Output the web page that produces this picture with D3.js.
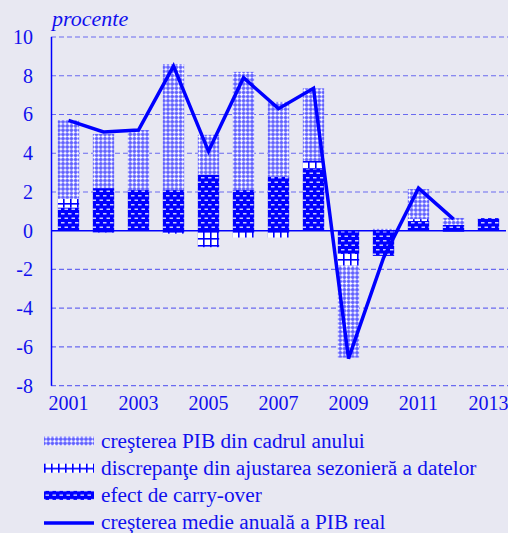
<!DOCTYPE html>
<html>
<head>
<meta charset="utf-8">
<script src="https://cdn.jsdelivr.net/npm/d3@7"></script>
<style>
  body { margin: 0; background: #e8e8f2; }
  svg { display: block; font-family: "Liberation Serif", "Times New Roman", serif; }
  text { fill: #1010ee; }
</style>
</head>
<body>
<svg id="chart" width="508" height="533"></svg>
<script>
// values (percent)
var years = [2001, 2002, 2003, 2004, 2005, 2006, 2007, 2008, 2009, 2010, 2011, 2012, 2013];
var carryOver = [1.2, 2.2, 2.1, 2.1, 2.9, 2.1, 2.8, 3.2, -1.2, -1.3, 0.5, 0.3, 0.65];
var discrepancy = [0.45, -0.1, 0, -0.15, -0.85, -0.35, -0.35, 0.4, -0.6, 0, 0.1, -0.05, 0];
var inYear = [4.05, 2.8, 3.1, 6.5, 2.05, 6.1, 3.85, 3.75, -4.75, 0.1, 1.55, 0.36, 0];
var annualAvg = [5.7, 5.1, 5.2, 8.5, 4.1, 7.9, 6.3, 7.35, -6.6, -1.4, 2.2, 0.6, null];
var yTicks = [-8, -6, -4, -2, 0, 2, 4, 6, 8, 10];
var xLabels = [2001, 2003, 2005, 2007, 2009, 2011, 2013];

var legendItems = [
    { key: "inYear", label: "creşterea PIB din cadrul anului" },
    { key: "discrepancy", label: "discrepanţe din ajustarea sezonieră a datelor" },
    { key: "carryOver", label: "efect de carry-over" },
    { key: "line", label: "creşterea medie anuală a PIB real" }
];

var blue = "#0000ff";
var svg = d3.select("#chart");

// patterns for the three bar series
var defs = svg.append("defs");

var pIn = defs.append("pattern").attr("id", "pat-inYear")
    .attr("patternUnits", "userSpaceOnUse").attr("width", 4.2).attr("height", 4.2);
pIn.append("rect").attr("width", 4.2).attr("height", 4.2).attr("fill", "#6060ff");
pIn.append("path")
    .attr("d", "M0,2.1L2.1,0L4.2,2.1L2.1,4.2Z")
    .attr("fill", "#a4a4ff");
pIn.append("rect").attr("x", 1.6).attr("y", 0.6).attr("width", 1).attr("height", 3).attr("fill", "#ffffff");
pIn.append("rect").attr("x", 0.6).attr("y", 1.6).attr("width", 3).attr("height", 1).attr("fill", "#ffffff");

var pDisc = defs.append("pattern").attr("id", "pat-discrepancy")
    .attr("patternUnits", "userSpaceOnUse").attr("width", 7).attr("height", 7);
pDisc.append("rect").attr("width", 7).attr("height", 7).attr("fill", "#ffffff");
pDisc.append("rect").attr("x", 0).attr("y", 0).attr("width", 1.6).attr("height", 7).attr("fill", blue);
pDisc.append("rect").attr("x", 0).attr("y", 0).attr("width", 7).attr("height", 1.6).attr("fill", blue);

var pCarry = defs.append("pattern").attr("id", "pat-carryOver")
    .attr("patternUnits", "userSpaceOnUse").attr("width", 7).attr("height", 9);
pCarry.append("rect").attr("width", 7).attr("height", 9).attr("fill", blue);
[[1.5, 1.5], [5, 6], [-2, 6]].forEach(function(d) {
    pCarry.append("rect").attr("x", d[0]).attr("y", d[1])
        .attr("width", 3.5).attr("height", 1.5).attr("fill", "#c8c8ff");
});

// scales
var x = d3.scaleBand()
    .domain(years)
    .range([51, 506])
    .paddingInner(0.39)
    .paddingOuter(0.195);

var y = d3.scaleLinear()
    .domain([-8, 10])
    .range([385.7, 37]);

// grid lines
svg.append("g")
    .selectAll("line")
    .data(yTicks.filter(function(t) { return t !== 0; }))
    .enter()
    .append("line")
    .attr("x1", 51).attr("x2", 508)
    .attr("y1", function(t) { return y(t); })
    .attr("y2", function(t) { return y(t); })
    .attr("stroke", "#6a6af0")
    .attr("stroke-width", 1.2)
    .attr("stroke-dasharray", "5,3");

// y tick labels
svg.append("g")
    .selectAll("text")
    .data(yTicks)
    .enter()
    .append("text")
    .attr("x", 33)
    .attr("y", function(t) { return y(t); })
    .attr("dy", "0.35em")
    .attr("text-anchor", "end")
    .style("font-size", "20px")
    .text(function(t) { return t; });

// x labels
svg.append("g")
    .selectAll("text")
    .data(xLabels)
    .enter()
    .append("text")
    .attr("x", function(yr) { return x(yr) + x.bandwidth() / 2; })
    .attr("y", 410)
    .attr("text-anchor", "middle")
    .style("font-size", "20px")
    .text(function(yr) { return yr; });

svg.append("text")
    .attr("x", 52)
    .attr("y", 26)
    .style("font-size", "22px")
    .style("font-style", "italic")
    .text("procente");

// stacked bars, positives up and negatives down
var table = years.map(function(yr, i) {
    return { year: yr, carryOver: carryOver[i], discrepancy: discrepancy[i], inYear: inYear[i] };
});

var stack = d3.stack()
    .keys(["carryOver", "discrepancy", "inYear"])
    .offset(d3.stackOffsetDiverging);

var series = stack(table);

svg.append("g")
    .selectAll("g")
    .data(series)
    .enter()
    .append("g")
    .attr("fill", function(s) { return "url(#pat-" + s.key + ")"; })
    .selectAll("rect")
    .data(function(s) { return s; })
    .enter()
    .append("rect")
    .attr("x", function(d) { return x(d.data.year); })
    .attr("width", x.bandwidth())
    .attr("y", function(d) { return y(Math.max(d[0], d[1])); })
    .attr("height", function(d) { return Math.abs(y(d[0]) - y(d[1])); });

// axis lines
svg.append("line")
    .attr("x1", 51.5).attr("x2", 51.5)
    .attr("y1", y(10)).attr("y2", y(-8))
    .attr("stroke", blue).attr("stroke-width", 1.5);

svg.append("line")
    .attr("x1", 51).attr("x2", 506)
    .attr("y1", y(0)).attr("y2", y(0))
    .attr("stroke", blue).attr("stroke-width", 1.5);

// annual average line
var line = d3.line()
    .defined(function(d) { return d.v !== null; })
    .x(function(d) { return x(d.year) + x.bandwidth() / 2; })
    .y(function(d) { return y(d.v); });

svg.append("path")
    .datum(years.map(function(yr, i) { return { year: yr, v: annualAvg[i] }; }))
    .attr("d", line)
    .attr("fill", "none")
    .attr("stroke", blue)
    .attr("stroke-width", 3.5)
    .attr("stroke-linejoin", "miter");

// legend
var legend = svg.append("g")
    .selectAll("g")
    .data(legendItems)
    .enter()
    .append("g")
    .attr("transform", function(d, i) { return "translate(44," + (447.5 + i * 27.2) + ")"; });

legend.each(function(d) {
    var g = d3.select(this);
    if (d.key === "line") {
        g.append("line")
            .attr("x1", 0).attr("x2", 50)
            .attr("y1", -6).attr("y2", -6)
            .attr("stroke", blue).attr("stroke-width", 3.5);
    } else {
        g.append("rect")
            .attr("x", 0).attr("y", -11)
            .attr("width", 50).attr("height", 9)
            .attr("fill", "url(#pat-" + d.key + ")");
    }
});

legend.append("text")
    .attr("x", 57)
    .attr("y", 0)
    .style("font-size", "21.3px")
    .text(function(d) { return d.label; });
</script>
</body>
</html>
